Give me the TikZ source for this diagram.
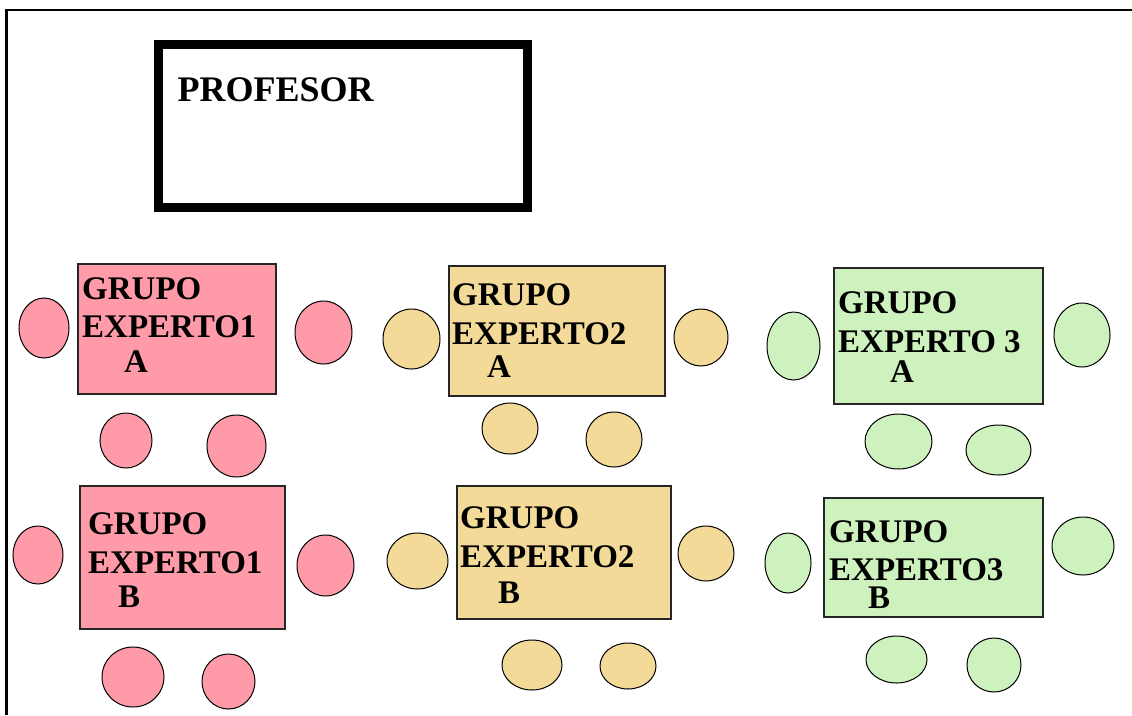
\documentclass[tikz,border=0pt]{standalone}
\usepackage{fontspec}
\setmainfont{Liberation Serif}
\definecolor{pinkc}{RGB}{255,155,168}
\definecolor{yelc}{RGB}{244,218,152}
\definecolor{grnc}{RGB}{205,242,190}
\tikzset{
  tbl/.style={draw=black!85, line width=1.3pt, inner sep=0pt},
  seat/.style={draw=black, line width=1pt, ellipse, inner sep=0pt},
  lbl/.style={anchor=base west, inner sep=0pt, font=\bfseries\fontsize{33}{33}\selectfont},
}
\usetikzlibrary{shapes.geometric}
\begin{document}
\begin{tikzpicture}[x=1pt,y=-1pt]
\useasboundingbox (0,0) rectangle (1132,715);
\fill[white] (0,0) rectangle (1132,715);
% frame
\coordinate (fb) at (6.5,715);
\coordinate (fc) at (6.5,10);
\coordinate (fr) at (1132,10);
\draw[line width=2.6pt] (fb) -- (fc) -- (fr);
% profesor
\node[draw=black, line width=9pt, minimum width=368.5pt, minimum height=163pt, inner sep=0pt] (prof) at (342.75,125.5) {};
\node[anchor=base west, inner sep=0pt, font=\bfseries\fontsize{36}{36}\selectfont] (proft) at (177.5,101) {PROFESOR};
% macro for a table
\newcommand{\mytable}[6]{% name, x1, y1, x2, y2, color
  \node[tbl, fill=#6, minimum width={#4-#2}, minimum height={#5-#3}] (#1) at ({(#2+#4)/2},{(#3+#5)/2}) {};
}
\newcommand{\myseat}[6]{% name, cx, cy, rx, ry, color
  \node[seat, fill=#6, minimum width={2*#4}, minimum height={2*#5}] (#1) at (#2,#3) {};
}
% Group 1 A
\mytable{t1a}{78}{264}{276}{394}{pinkc}
\node[lbl] (t1a1) at (82,299) {GRUPO};
\node[lbl] (t1a2) at (82,337) {EXPERTO1};
\node[lbl] (t1a3) at (124,372) {A};
\myseat{s1a1}{44}{328}{25}{30}{pinkc}
\myseat{s1a2}{323.5}{332.5}{28.5}{31.5}{pinkc}
\myseat{s1a3}{126}{440.5}{26}{27.5}{pinkc}
\myseat{s1a4}{236.5}{446}{29.5}{31}{pinkc}
% Group 1 B
\mytable{t1b}{80}{486}{285}{629}{pinkc}
\node[lbl] (t1b1) at (88,534) {GRUPO};
\node[lbl] (t1b2) at (88,573) {EXPERTO1};
\node[lbl] (t1b3) at (118,607) {B};
\myseat{s1b1}{38}{555}{25}{29}{pinkc}
\myseat{s1b2}{325.5}{565.5}{28.5}{30.5}{pinkc}
\myseat{s1b3}{133}{677}{31}{30}{pinkc}
\myseat{s1b4}{228.5}{681.5}{26.5}{27.5}{pinkc}
% Group 2 A
\mytable{t2a}{449}{266}{665}{396}{yelc}
\node[lbl] (t2a1) at (452,305) {GRUPO};
\node[lbl] (t2a2) at (452,344) {EXPERTO2};
\node[lbl] (t2a3) at (487,377) {A};
\myseat{s2a1}{411.5}{339}{28.5}{30}{yelc}
\myseat{s2a2}{701}{337.5}{27}{28.5}{yelc}
\myseat{s2a3}{510}{428.5}{28}{25.5}{yelc}
\myseat{s2a4}{614}{439.5}{28}{27.5}{yelc}
% Group 2 B
\mytable{t2b}{457}{486}{671}{619}{yelc}
\node[lbl] (t2b1) at (460,528) {GRUPO};
\node[lbl] (t2b2) at (460,567) {EXPERTO2};
\node[lbl] (t2b3) at (498,603) {B};
\myseat{s2b1}{417.5}{561}{30.5}{28}{yelc}
\myseat{s2b2}{706}{553.5}{28}{27.5}{yelc}
\myseat{s2b3}{532}{665}{30}{25}{yelc}
\myseat{s2b4}{628}{666}{28}{23}{yelc}
% Group 3 A
\mytable{t3a}{834}{268}{1043}{404}{grnc}
\node[lbl] (t3a1) at (838,313) {GRUPO};
\node[lbl] (t3a2) at (838,352) {EXPERTO 3};
\node[lbl] (t3a3) at (890,382) {A};
\myseat{s3a1}{793.5}{346}{26.5}{34}{grnc}
\myseat{s3a2}{1082}{335}{28}{32}{grnc}
\myseat{s3a3}{898.5}{441.5}{33.5}{27.5}{grnc}
\myseat{s3a4}{998.5}{450}{32.5}{25}{grnc}
% Group 3 B
\mytable{t3b}{824}{498}{1043}{617}{grnc}
\node[lbl] (t3b1) at (829,542) {GRUPO};
\node[lbl] (t3b2) at (829,580) {EXPERTO3};
\node[lbl] (t3b3) at (868,608) {B};
\myseat{s3b1}{788}{563}{23}{30}{grnc}
\myseat{s3b2}{1083}{546}{31}{29}{grnc}
\myseat{s3b3}{896.5}{659.5}{30.5}{23.5}{grnc}
\myseat{s3b4}{994}{665}{27}{27}{grnc}
\end{tikzpicture}
\end{document}
